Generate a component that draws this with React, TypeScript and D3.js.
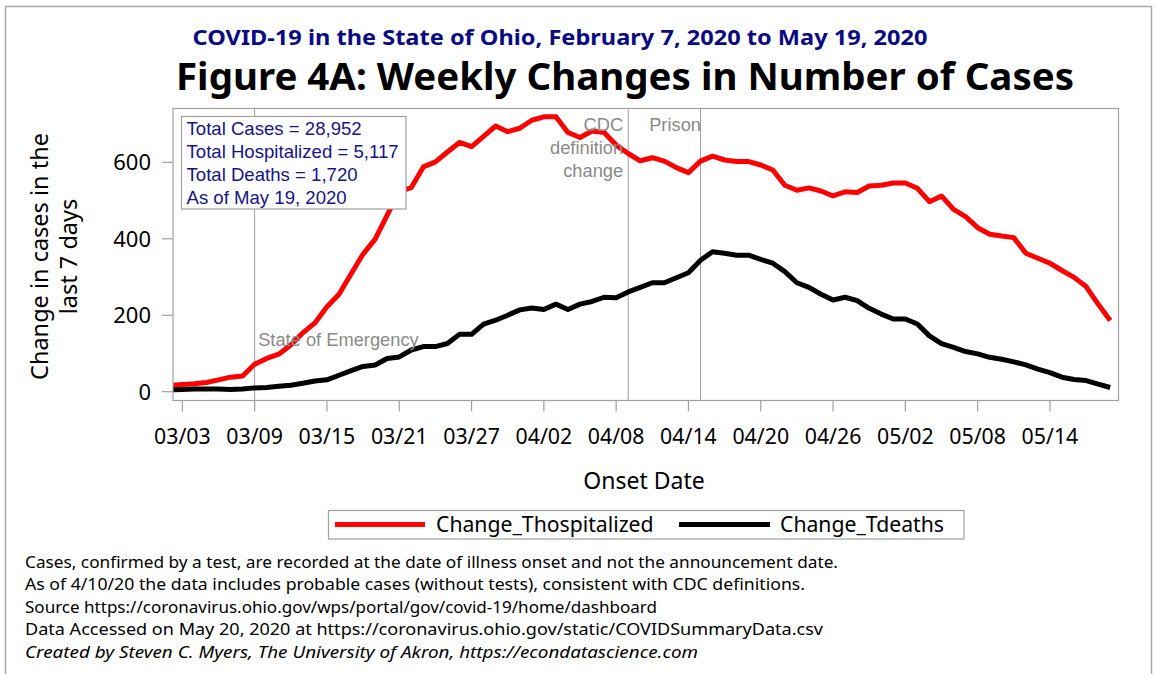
import React from "react";
import * as d3 from "d3";

// ---------- data ----------
const startDate = Date.UTC(2020, 2, 2); // 03/02/2020, one value per day to 05/19/2020
const changeThospitalized = [
  16, 19, 21, 24, 31, 38, 41, 72, 87, 98,
  122, 154, 180, 222, 255, 308, 360, 399, 462, 524,
  534, 588, 601, 627, 652, 641, 668, 695, 680, 689,
  710, 719, 719, 678, 665, 682, 678, 645, 623, 604,
  612, 603, 586, 573, 603, 616, 606, 602, 602, 593,
  580, 540, 527, 533, 525, 512, 523, 521, 538, 540,
  546, 546, 532, 497, 512, 477, 458, 429, 412, 407,
  403, 362, 349, 336, 317, 299, 275, 229, 186,
];
const changeTdeaths = [
  5, 6, 7, 7, 7, 6, 7, 10, 11, 14,
  17, 22, 28, 31, 43, 55, 66, 70, 87, 91,
  109, 118, 118, 126, 150, 150, 177, 187, 200, 214,
  219, 215, 229, 215, 229, 236, 247, 246, 261, 273,
  285, 285, 298, 311, 344, 366, 362, 357, 357, 346,
  336, 314, 285, 273, 255, 240, 247, 238, 218, 203,
  190, 190, 177, 146, 126, 116, 105, 99, 90, 85,
  78, 70, 59, 50, 38, 32, 29, 20, 11,
];
const dates = changeThospitalized.map((_, i) => d3.utcDay.offset(new Date(startDate), i));

const xTickDates = [
  "2020-03-03", "2020-03-09", "2020-03-15", "2020-03-21", "2020-03-27", "2020-04-02",
  "2020-04-08", "2020-04-14", "2020-04-20", "2020-04-26", "2020-05-02", "2020-05-08", "2020-05-14",
];
const yTicks = [0, 200, 400, 600];

const refLines = [
  { date: "2020-03-09", label: ["State of Emergency"] },
  { date: "2020-04-09", label: ["CDC", "definition", "change"] },
  { date: "2020-04-15", label: ["Prison"] },
];

const insetLines = [
  "Total Cases = 28,952",
  "Total Hospitalized = 5,117",
  "Total Deaths = 1,720",
  "As of May 19, 2020",
];

const footnotes = [
  "Cases, confirmed by a test, are recorded at the date of illness onset and not the announcement date.",
  "As of 4/10/20 the data includes probable cases (without tests), consistent with CDC definitions.",
  "Source https://coronavirus.ohio.gov/wps/portal/gov/covid-19/home/dashboard",
  "Data Accessed on May 20, 2020 at https://coronavirus.ohio.gov/static/COVIDSummaryData.csv",
  "Created by Steven C. Myers, The University of Akron, https://econdatascience.com",
];

const seriesNames = ["Change_Thospitalized", "Change_Tdeaths"];
const seriesColors = ["#ff0000", "#000000"];

// ---------- layout ----------
const W = 1157;
const H = 674;
const frame = { left: 173, right: 1118.5, top: 108.5, bottom: 400.5 };
const footnoteWidths = [813, 780, 632, 798, 673];
const sans = "'Noto Sans', 'Open Sans', sans-serif";
const arial = "'Liberation Sans', Arial, sans-serif";
const gridGray = "#a0a0a0";

export default function App() {
  const x = d3
    .scaleUtc()
    .domain([dates[0], dates[dates.length - 1]])
    .range([170.3, 1110.2]);
  const y = d3.scaleLinear().domain([0, 600]).range([391.7, 162.3]);

  const line = d3
    .line<number>()
    .x((_, i) => x(dates[i]))
    .y((v) => y(v));

  const parse = (s: string) => new Date(s + "T00:00:00Z");
  const fmt = d3.utcFormat("%m/%d");

  return (
    <svg
      width={W}
      height={H}
      style={{ position: "absolute", left: 0, top: 0, background: "#fff" }}
    >
      <defs>
        <clipPath id="plotclip">
          <rect
            x={frame.left}
            y={frame.top}
            width={frame.right - frame.left}
            height={frame.bottom - frame.top}
          />
        </clipPath>
      </defs>
      <rect x={0} y={0} width={W} height={H} fill="#fff" />
      {/* outer border */}
      <rect x={5.5} y={6.5} width={1146} height={700} fill="none" stroke="#a8a8a8" strokeWidth={1.5} />

      {/* titles */}
      <text
        x={560}
        y={44.5}
        textAnchor="middle"
        fontFamily={sans}
        fontWeight="bold"
        fontSize={20.5}
        fill="#0a0a82"
        textLength={735}
        lengthAdjust="spacingAndGlyphs"
      >
        COVID-19 in the State of Ohio, February 7, 2020 to May 19, 2020
      </text>
      <text
        x={625}
        y={89.5}
        textAnchor="middle"
        fontFamily={sans}
        fontWeight="bold"
        fontSize={36.8}
        fill="#000"
        textLength={898}
        lengthAdjust="spacingAndGlyphs"
      >
        Figure 4A: Weekly Changes in Number of Cases
      </text>

      {/* reference lines */}
      {refLines.map((r) => (
        <line
          key={r.date}
          x1={x(parse(r.date))}
          x2={x(parse(r.date))}
          y1={frame.top}
          y2={frame.bottom}
          stroke={gridGray}
          strokeWidth={1}
        />
      ))}

      {/* series */}
      <g clipPath="url(#plotclip)">
        <path d={line(changeThospitalized) || ""} fill="none" stroke={seriesColors[0]} strokeWidth={5} strokeLinejoin="round" />
        <path d={line(changeTdeaths) || ""} fill="none" stroke={seriesColors[1]} strokeWidth={5} strokeLinejoin="round" />
      </g>

      {/* reference labels */}
      <text x={x(parse(refLines[0].date)) + 3.5} y={345.5} fontFamily={arial} fontSize={18.3} fill="#8a8a8a">
        {refLines[0].label[0]}
      </text>
      {refLines[1].label.map((t, i) => (
        <text
          key={t}
          x={x(parse(refLines[1].date)) - 5}
          y={130.5 + i * 23}
          textAnchor="end"
          fontFamily={arial}
          fontSize={18.3}
          fill="#8a8a8a"
        >
          {t}
        </text>
      ))}
      <text x={x(parse(refLines[2].date)) + 0.5} y={130.5} textAnchor="end" fontFamily={arial} fontSize={18.3} fill="#8a8a8a">
        {refLines[2].label[0]}
      </text>

      {/* frame */}
      <rect
        x={frame.left}
        y={frame.top}
        width={frame.right - frame.left}
        height={frame.bottom - frame.top}
        fill="none"
        stroke={gridGray}
        strokeWidth={1.2}
      />

      {/* inset box */}
      <rect x={181.5} y={116.5} width={224.5} height={92.5} fill="#fff" stroke={gridGray} strokeWidth={1.2} />
      {insetLines.map((t, i) => (
        <text key={t} x={186.5} y={135 + i * 23} fontFamily={arial} fontSize={18.6} fill="#141488">
          {t}
        </text>
      ))}

      {/* y axis */}
      {yTicks.map((v) => (
        <g key={v}>
          <line x1={162} x2={frame.left} y1={y(v)} y2={y(v)} stroke={gridGray} strokeWidth={1.2} />
          <text x={151} y={y(v) + 8} textAnchor="end" fontFamily={sans} fontSize={22} fill="#000">
            {v}
          </text>
        </g>
      ))}
      <text
        transform="translate(47.5,256.5) rotate(-90)"
        textAnchor="middle"
        fontFamily={sans}
        fontSize={23.5}
        fill="#000"
      >
        Change in cases in the
      </text>
      <text
        transform="translate(77,256.5) rotate(-90)"
        textAnchor="middle"
        fontFamily={sans}
        fontSize={23.5}
        fill="#000"
      >
        last 7 days
      </text>

      {/* x axis */}
      {xTickDates.map((s) => {
        const d = parse(s);
        return (
          <g key={s}>
            <line x1={x(d)} x2={x(d)} y1={frame.bottom} y2={411.5} stroke={gridGray} strokeWidth={1.2} />
            <text x={x(d)} y={444} textAnchor="middle" fontFamily={sans} fontSize={21.3} fill="#000">
              {fmt(d)}
            </text>
          </g>
        );
      })}
      <text x={644} y={489} textAnchor="middle" fontFamily={sans} fontSize={23} fill="#000">
        Onset Date
      </text>

      {/* legend */}
      <rect x={328.5} y={510.5} width={635.5} height={28.5} fill="#fff" stroke={gridGray} strokeWidth={1.2} />
      <line x1={335} x2={425} y1={524.5} y2={524.5} stroke={seriesColors[0]} strokeWidth={5} />
      <text x={436} y={532} fontFamily={sans} fontSize={21.2} fill="#000">
        {seriesNames[0]}
      </text>
      <line x1={679} x2={770} y1={524.5} y2={524.5} stroke={seriesColors[1]} strokeWidth={5} />
      <text x={780} y={532} fontFamily={sans} fontSize={21.2} fill="#000">
        {seriesNames[1]}
      </text>

      {/* footnotes */}
      {footnotes.map((t, i) => (
        <text
          key={i}
          x={25}
          y={567.5 + i * 22.6}
          fontFamily={sans}
          fontSize={17}
          fontStyle={i === footnotes.length - 1 ? "italic" : "normal"}
          fill="#000"
          textLength={footnoteWidths[i]}
          lengthAdjust="spacingAndGlyphs"
        >
          {t}
        </text>
      ))}
    </svg>
  );
}
